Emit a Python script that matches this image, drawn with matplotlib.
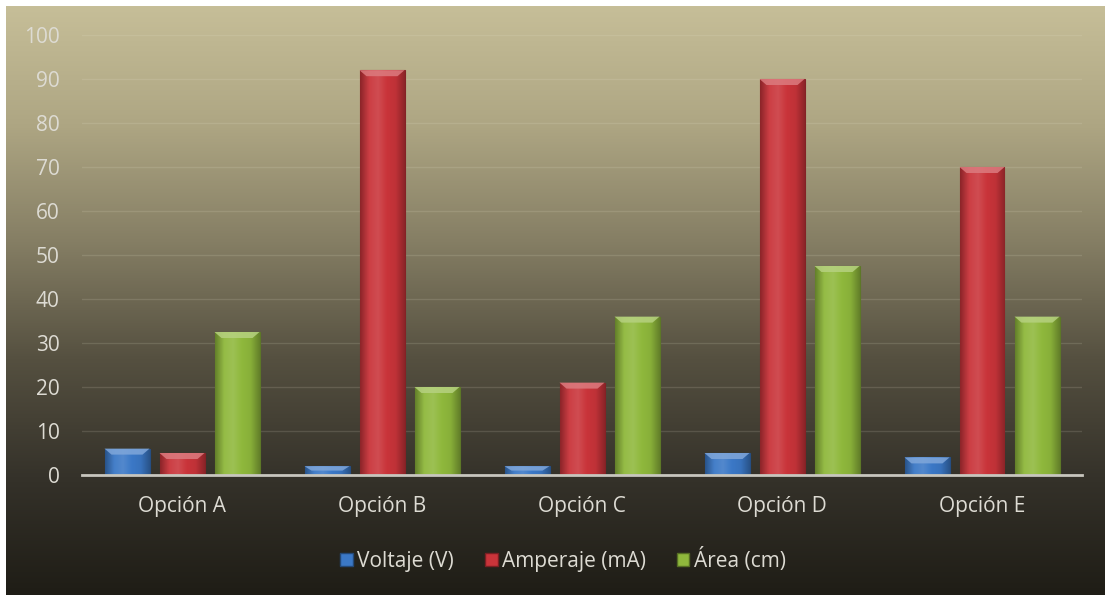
import numpy as np
import matplotlib
matplotlib.use("Agg")
import matplotlib.pyplot as plt
from matplotlib.colors import LinearSegmentedColormap, to_rgb
from matplotlib.patches import Polygon, Patch

plt.rcParams['font.family'] = ['Open Sans', 'DejaVu Sans']

categories = ['Opción A', 'Opción B', 'Opción C', 'Opción D', 'Opción E']
voltaje = [6, 2, 2, 5, 4]
amperaje = [5, 92, 21, 90, 70]
area = [32.5, 20, 36, 47.5, 36]
series_names = ['Voltaje (V)', 'Amperaje (mA)', 'Área (cm)']
series_colors = ['#3b78c6', '#c9343a', '#8fb83c']

W, H = 1105, 595
fig = plt.figure(figsize=(W / 100, H / 100), dpi=100)
fig.patch.set_facecolor('white')

# background gradient for the chart area
bg = fig.add_axes([6 / W, 0, 1 - 6 / W, 1 - 6 / H])
bg_cmap = LinearSegmentedColormap.from_list(
    'bg', ['#c6be98', '#aea683', '#857e64', '#555040', '#35322a', '#1f1d16'])
bg.imshow(np.linspace(0, 1, 256).reshape(-1, 1), aspect='auto', cmap=bg_cmap,
          extent=[0, 1, 0, 1], origin='upper')
bg.set_axis_off()

ax = fig.add_axes([82 / W, 1 - 475 / H, 1000 / W, 440 / H])
ax.set_facecolor('none')

x = np.arange(len(categories))
width = 0.225
offsets = [-0.275, 0, 0.275]
px_y = 100 / 440
px_x = 5 / 1000


def shade(color, f):
    r = np.array(to_rgb(color))
    if f >= 0:
        return tuple(r + (1 - r) * f)
    return tuple(r * (1 + f))


for vals, off, col in zip([voltaje, amperaje, area], offsets, series_colors):
    bars = ax.bar(x + off, vals, width, color=col, edgecolor=shade(col, -0.35),
                  linewidth=0.8, zorder=3)
    cmap = LinearSegmentedColormap.from_list(
        'b', [shade(col, -0.3), shade(col, 0.05), shade(col, 0.12), col,
              shade(col, -0.05), shade(col, -0.3)])
    for b in bars:
        x0, y0 = b.get_x(), b.get_y()
        w, h = b.get_width(), b.get_height()
        im = ax.imshow(np.linspace(0, 1, 64).reshape(1, -1), aspect='auto', cmap=cmap,
                       extent=[x0, x0 + w, y0, y0 + h], zorder=3.5)
        im.set_clip_path(b)
        cap = min(6 * px_y, h * 0.5)
        ins = 7 * px_x
        top = Polygon([[x0, y0 + h], [x0 + w, y0 + h], [x0 + w - ins, y0 + h - cap],
                       [x0 + ins, y0 + h - cap]], closed=True,
                      facecolor=shade(col, 0.35), edgecolor='none', alpha=0.85, zorder=4)
        ax.add_patch(top)
ax.set_xlim(-0.5, 4.5)
ax.set_ylim(0, 100)

ax.set_yticks(np.arange(0, 101, 10))
ax.yaxis.grid(True, color='#e8e4cf', alpha=0.15, linewidth=1)
ax.set_axisbelow(True)
ax.set_xticks(x)
ax.set_xticklabels(categories)
ax.tick_params(axis='both', length=0, labelsize=15, colors='#dddbd3')
ax.tick_params(axis='y', pad=16)
ax.tick_params(axis='x', pad=15)
for s in ['top', 'right', 'left']:
    ax.spines[s].set_visible(False)
ax.spines['bottom'].set_color('#c8c6be')
ax.spines['bottom'].set_linewidth(2)
ax.spines['bottom'].set_zorder(5)

handles = [Patch(facecolor=c, edgecolor=shade(c, -0.4), label=n)
           for c, n in zip(series_colors, series_names)]
leg = fig.legend(handles=handles, loc='center', bbox_to_anchor=(563 / W, 1 - 560 / H),
                 ncol=3, frameon=False, fontsize=15, handlelength=0.6, handleheight=0.6,
                 handletextpad=0.2, columnspacing=1.5)
for t in leg.get_texts():
    t.set_color('#dddbd3')

fig.savefig('out.png', dpi=100)
